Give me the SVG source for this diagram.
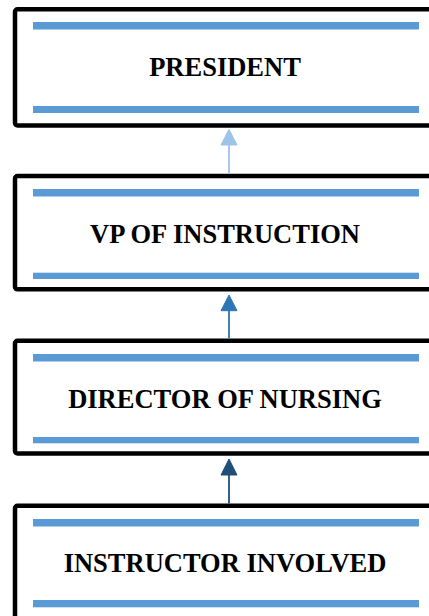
<svg xmlns="http://www.w3.org/2000/svg" width="429" height="616" viewBox="0 0 429 616">
<style>
.box{fill:#ffffff;stroke:#000000;stroke-width:4.5}
.bar{fill:#5B9BD5}
.lbl{font-family:"Liberation Serif","Times New Roman",serif;font-weight:bold;font-size:26.5px;fill:#000000;text-anchor:middle}
.c1{stroke:#9DC3E6;fill:#9DC3E6}
.c2{stroke:#2E75B6;fill:#2E75B6}
.c3{stroke:#1F4E79;fill:#1F4E79}
</style>
<rect width="429" height="616" fill="#ffffff"/>
<g id="president">
<rect class="box" x="15" y="9.3" width="430" height="116.2" rx="2.5"/>
<rect class="bar" x="33" y="22" width="386" height="7.5"/>
<rect class="bar" x="33" y="106" width="386" height="7"/>
<text class="lbl" x="225" y="76">PRESIDENT</text>
</g>
<g id="vp">
<rect class="box" x="15" y="176" width="430" height="113.3" rx="2.5"/>
<rect class="bar" x="33" y="189" width="386" height="7.5"/>
<rect class="bar" x="33" y="272.7" width="386" height="6.3"/>
<text class="lbl" x="225" y="243.3">VP OF INSTRUCTION</text>
</g>
<g id="director">
<rect class="box" x="15" y="340.8" width="430" height="112.7" rx="2.5"/>
<rect class="bar" x="33" y="354" width="386" height="7.5"/>
<rect class="bar" x="33" y="437" width="386" height="6.3"/>
<text class="lbl" x="225" y="408.3">DIRECTOR OF NURSING</text>
</g>
<g id="instructor">
<rect class="box" x="15" y="505.8" width="430" height="130" rx="2.5"/>
<rect class="bar" x="33" y="519" width="386" height="7.5"/>
<rect class="bar" x="33" y="600" width="386" height="7.3"/>
<text class="lbl" x="225" y="572">INSTRUCTOR INVOLVED</text>
</g>
<g id="connectors">
<line class="c1" x1="229" y1="174" x2="229" y2="144" stroke-width="1.8"/>
<polygon class="c1" points="229,129.3 237,145 221,145" stroke="none"/>
<line class="c2" x1="229" y1="338.5" x2="229" y2="310" stroke-width="1.8"/>
<polygon class="c2" points="229,295 237,310.7 221,310.7" stroke="none"/>
<line class="c3" x1="229" y1="503.5" x2="229" y2="474" stroke-width="1.8"/>
<polygon class="c3" points="229,459 237,475 221,475" stroke="none"/>
</g>
</svg>
